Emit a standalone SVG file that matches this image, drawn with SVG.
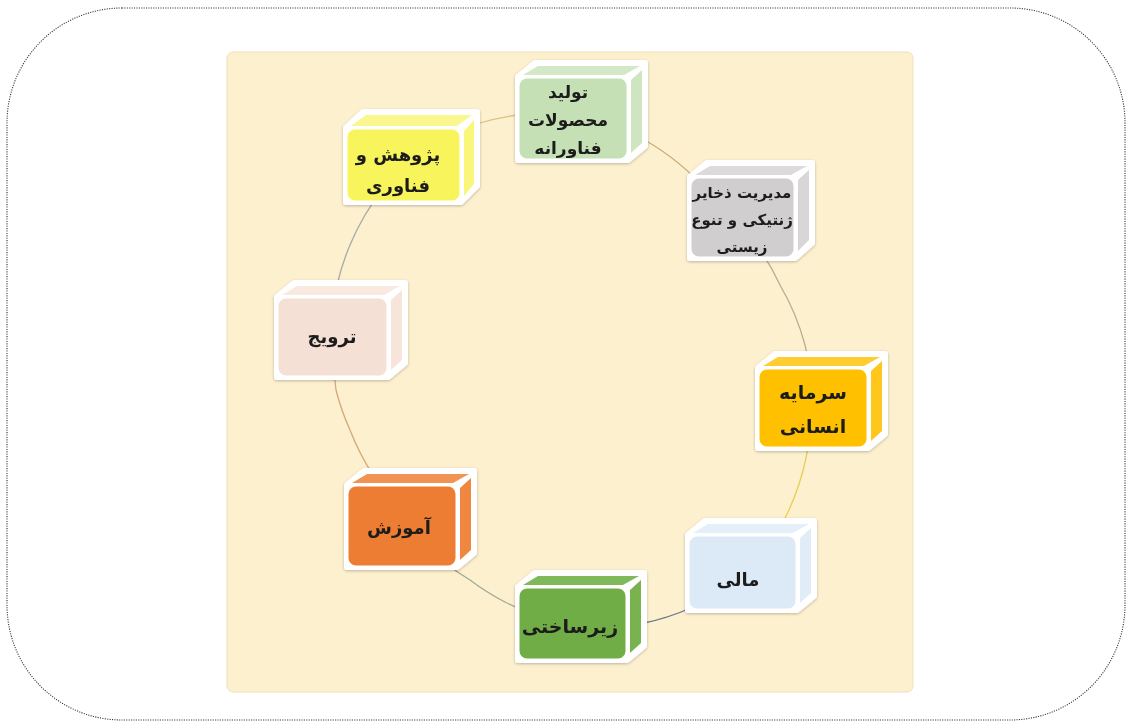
<svg xmlns="http://www.w3.org/2000/svg" width="1132" height="727" viewBox="0 0 1132 727">
<style>
.lbl{font-family:"DejaVu Sans","Noto Sans",sans-serif;font-weight:bold;fill:#1c1c1c;text-anchor:middle}
.hull{fill:#ffffff;stroke:#ffffff;stroke-width:6;stroke-linejoin:round}
.front{stroke:#ffffff;stroke-width:3}
.side{stroke:none}
.arc{fill:none;stroke-width:1.3}
</style>
<defs>
<filter id="sh" x="-10%" y="-10%" width="120%" height="120%">
<feGaussianBlur in="SourceAlpha" stdDeviation="1.5"/>
<feOffset dx="0" dy="1" result="b"/>
<feComponentTransfer><feFuncA type="linear" slope="0.25"/></feComponentTransfer>
<feMerge><feMergeNode/><feMergeNode in="SourceGraphic"/></feMerge>
</filter>
</defs>
<rect x="0" y="0" width="1132" height="727" fill="#ffffff"/>
<rect x="7" y="8" width="1118" height="712" rx="115" ry="115" fill="none" stroke="#333333" stroke-width="1.1" stroke-dasharray="1.1 1.3"/>
<rect x="227" y="52" width="686" height="640" rx="6" fill="#fdf0cf" stroke="#f0e0b8" stroke-width="1"/>

<g id="connectors">
<path class="arc" stroke="#cda877" d="M 560 113 A 245 245 0 0 1 625 130 A 245 245 0 0 1 695 178 A 245 245 0 0 1 745 230"/>
<path class="arc" stroke="#b9ab93" d="M 745 230 A 245 245 0 0 1 780 285 A 245 245 0 0 1 805 345 A 245 245 0 0 1 812 400"/>
<path class="arc" stroke="#e6cf55" d="M 812 400 A 245 245 0 0 1 806 458 A 245 245 0 0 1 788 512 A 245 245 0 0 1 750 570"/>
<path class="arc" stroke="#6c7684" d="M 750 570 A 245 245 0 0 1 693 607 A 245 245 0 0 1 640 624 A 245 245 0 0 1 585 628"/>
<path class="arc" stroke="#a3ab96" d="M 585 628 A 245 245 0 0 1 540 617 A 245 245 0 0 1 505 602 A 245 245 0 0 1 470 580 A 245 245 0 0 1 420 540"/>
<path class="arc" stroke="#d6a878" d="M 420 540 A 245 245 0 0 1 373 475 A 245 245 0 0 1 350 430 A 245 245 0 0 1 336 390 A 245 245 0 0 1 334 335"/>
<path class="arc" stroke="#a9a9a9" d="M 334 335 A 245 245 0 0 1 337 285 A 245 245 0 0 1 350 245 A 245 245 0 0 1 365 215 A 245 245 0 0 1 410 160"/>
<path class="arc" stroke="#dfc07f" d="M 410 160 A 245 245 0 0 1 480 123 A 245 245 0 0 1 517 115 A 245 245 0 0 1 560 113"/>
</g>

<g id="n-tolid" transform="translate(518,77)" filter="url(#sh)">
<polygon class="hull" points="0,0 17,-14 127,-14 127,69 110,83 0,83"/>
<polygon class="side" fill="#d3e8c6" points="5,-2 20,-11 122,-11 106,-2"/>
<polygon class="side" fill="#cfe5c1" points="113,3 124,-7 124,66 113,76"/>
<rect class="front" x="0" y="0" width="110" height="83" rx="9" fill="#c5e0b4"/>
<text class="lbl" font-size="17" x="50" y="21">تولید</text>
<text class="lbl" font-size="17" x="50" y="49">محصولات</text>
<text class="lbl" font-size="17" x="50" y="77">فناورانه</text>
</g>

<g id="n-pajohesh" transform="translate(346,128)" filter="url(#sh)">
<polygon class="hull" points="0,0 17,-16 131,-16 131,58 115,74 0,74"/>
<polygon class="side" fill="#fbf78f" points="5,-2 20,-13 126,-13 111,-2"/>
<polygon class="side" fill="#faf67a" points="118,3 128,-8 128,56 118,68"/>
<rect class="front" x="0" y="0" width="115" height="74" rx="9" fill="#f8f45c"/>
<text class="lbl" font-size="18" x="52" y="33">پژوهش و</text>
<text class="lbl" font-size="18" x="52" y="64">فناوری</text>
</g>

<g id="n-zakhayer" transform="translate(690,177)" filter="url(#sh)">
<polygon class="hull" points="0,0 17,-14 122,-14 122,66 105,81 0,81"/>
<polygon class="side" fill="#dcdada" points="5,-2 20,-11 117,-11 101,-2"/>
<polygon class="side" fill="#d8d6d6" points="108,3 119,-7 119,63 108,74"/>
<rect class="front" x="0" y="0" width="105" height="81" rx="9" fill="#d0cece"/>
<text class="lbl" font-size="15" x="52" y="21">مدیریت ذخایر</text>
<text class="lbl" font-size="15" x="52" y="48">ژنتیکی و تنوع</text>
<text class="lbl" font-size="15" x="52" y="75">زیستی</text>
</g>

<g id="n-tarvij" transform="translate(277,297)" filter="url(#sh)">
<polygon class="hull" points="0,0 17,-14 128,-14 128,66 111,80 0,80"/>
<polygon class="side" fill="#f9e9e1" points="5,-2 20,-11 123,-11 107,-2"/>
<polygon class="side" fill="#f7e5dc" points="114,3 125,-7 125,63 114,73"/>
<rect class="front" x="0" y="0" width="111" height="80" rx="9" fill="#f5e0d6"/>
<text class="lbl" font-size="18" x="55" y="46">ترویج</text>
</g>

<g id="n-sarmaye" transform="translate(758,368)" filter="url(#sh)">
<polygon class="hull" points="0,0 17,-14 127,-14 127,66 110,80 0,80"/>
<polygon class="side" fill="#ffcc33" points="5,-2 20,-11 122,-11 106,-2"/>
<polygon class="side" fill="#ffc61a" points="113,3 124,-7 124,63 113,73"/>
<rect class="front" x="0" y="0" width="110" height="80" rx="9" fill="#ffc000"/>
<text class="lbl" font-size="19" x="55" y="31">سرمایه</text>
<text class="lbl" font-size="19" x="55" y="65">انسانی</text>
</g>

<g id="n-amozesh" transform="translate(347,485)" filter="url(#sh)">
<polygon class="hull" points="0,0 17,-14 127,-14 127,68 110,82 0,82"/>
<polygon class="side" fill="#f19452" points="5,-2 20,-11 122,-11 106,-2"/>
<polygon class="side" fill="#ef8741" points="113,3 124,-7 124,65 113,75"/>
<rect class="front" x="0" y="0" width="110" height="82" rx="9" fill="#ed7d31"/>
<text class="lbl" font-size="18" x="52" y="49">آموزش</text>
</g>

<g id="n-mali" transform="translate(688,535)" filter="url(#sh)">
<polygon class="hull" points="0,0 17,-14 126,-14 126,61 109,75 0,75"/>
<polygon class="side" fill="#e4eff9" points="5,-2 20,-11 121,-11 105,-2"/>
<polygon class="side" fill="#e0ecf8" points="112,3 123,-7 123,58 112,68"/>
<rect class="front" x="0" y="0" width="109" height="75" rx="9" fill="#dce9f6"/>
<text class="lbl" font-size="18" x="50" y="51">مالی</text>
</g>

<g id="n-zirsakhti" transform="translate(518,587)" filter="url(#sh)">
<polygon class="hull" points="0,0 17,-14 126,-14 126,59 109,73 0,73"/>
<polygon class="side" fill="#80b95a" points="5,-2 20,-11 121,-11 105,-2"/>
<polygon class="side" fill="#78b350" points="112,3 123,-7 123,56 112,66"/>
<rect class="front" x="0" y="0" width="109" height="73" rx="9" fill="#70ad47"/>
<text class="lbl" font-size="19" x="52" y="46">زیرساختی</text>
</g>
</svg>
